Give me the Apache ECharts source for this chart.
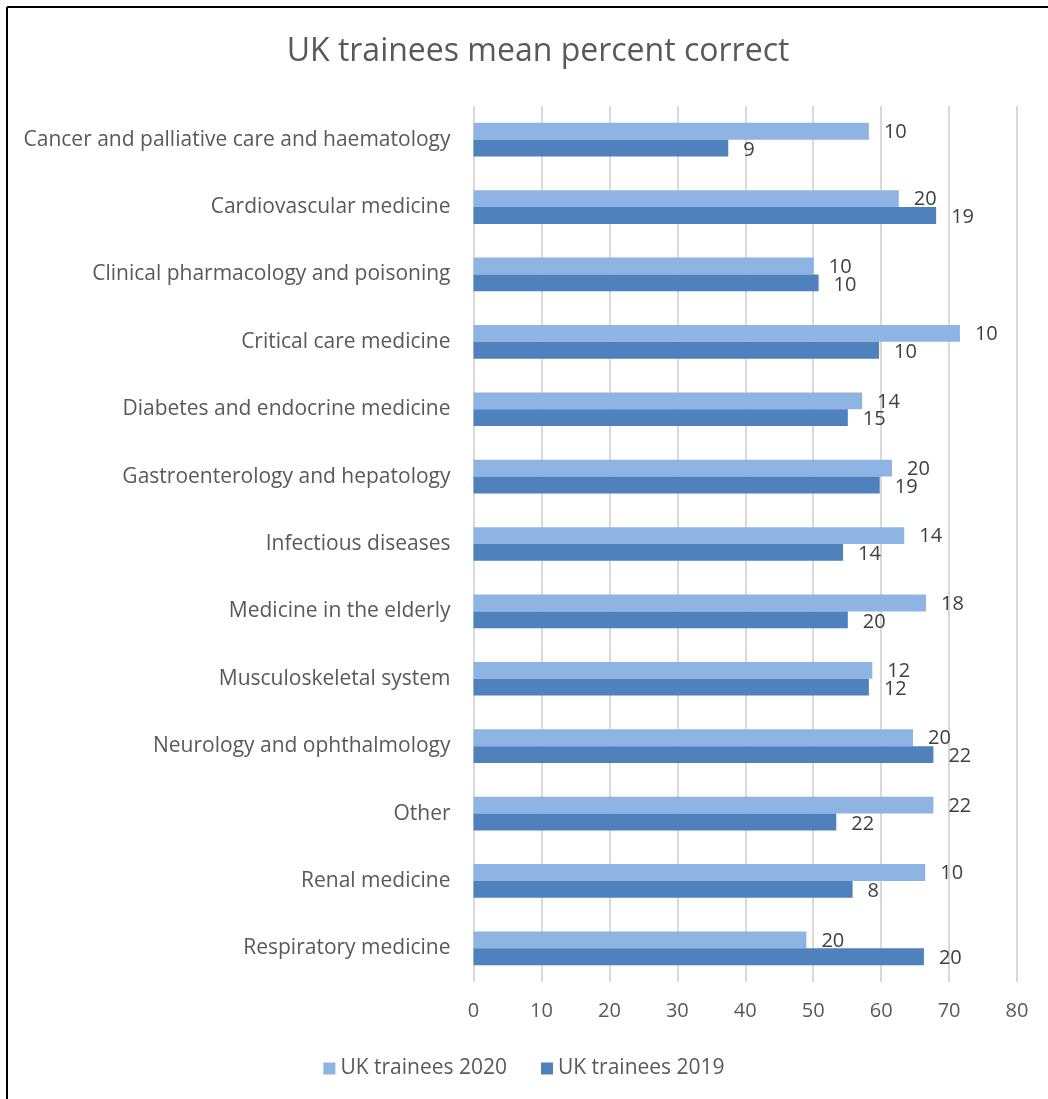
<!DOCTYPE html>
<html>
<head>
<meta charset="utf-8">
<script src="https://cdn.jsdelivr.net/npm/echarts@6/dist/echarts.min.js"></script>
<style>
html,body{margin:0;padding:0;background:#fff;}
#chart{width:1048px;height:1099px;}
</style>
</head>
<body>
<div id="chart"></div>
<script>
const categories = [
  "Cancer and palliative care and haematology",
  "Cardiovascular medicine",
  "Clinical pharmacology and poisoning",
  "Critical care medicine",
  "Diabetes and endocrine medicine",
  "Gastroenterology and hepatology",
  "Infectious diseases",
  "Medicine in the elderly",
  "Musculoskeletal system",
  "Neurology and ophthalmology",
  "Other",
  "Renal medicine",
  "Respiratory medicine"
];
const values2020 = [58.2, 62.6, 50.1, 71.6, 57.2, 61.6, 63.4, 66.6, 58.7, 64.7, 67.7, 66.5, 49.0];
const values2019 = [37.5, 68.1, 50.8, 59.7, 55.1, 59.8, 54.4, 55.1, 58.2, 67.7, 53.4, 55.8, 66.3];
const labels2020 = [10, 20, 10, 10, 14, 20, 14, 18, 12, 20, 22, 10, 20];
const labels2019 = [9, 19, 10, 10, 15, 19, 14, 20, 12, 22, 22, 8, 20];
const xTicks = [0, 10, 20, 30, 40, 50, 60, 70, 80];

const chart = echarts.init(document.getElementById('chart'), null, {renderer: 'canvas'});
const fontFam = 'Open Sans, Liberation Sans, sans-serif';
const option = {
  animation: false,
  backgroundColor: '#ffffff',
  title: {
    text: 'UK trainees mean percent correct',
    left: 533, top: 31, textAlign: 'center',
    textStyle: {color: '#595959', fontSize: 32, fontWeight: 'normal', fontFamily: fontFam}
  },
  legend: {
    bottom: 15, left: 'center',
    itemWidth: 12, itemHeight: 12, itemGap: 34,
    icon: 'rect',
    textStyle: {color: '#595959', fontSize: 21, fontFamily: fontFam},
    data: ['UK trainees 2020', 'UK trainees 2019']
  },
  grid: {left: 473.5, right: 31, top: 106, bottom: 117, containLabel: false},
  xAxis: {
    type: 'value', min: xTicks[0], max: xTicks[xTicks.length - 1], interval: 10,
    axisLine: {show: false}, axisTick: {show: false},
    axisLabel: {color: '#595959', fontSize: 20, fontFamily: fontFam, margin: 19},
    splitLine: {show: true, lineStyle: {color: '#d9d9d9', width: 2}}
  },
  yAxis: {
    type: 'category', data: categories, inverse: true,
    axisLine: {show: false}, axisTick: {show: false},
    axisLabel: {color: '#595959', fontSize: 21, fontFamily: fontFam, margin: 23, padding: [4, 0, 0, 0]}
  },
  series: [
    {
      name: 'UK trainees 2020', type: 'bar', data: values2020,
      barGap: '0%', barCategoryGap: '50%',
      itemStyle: {color: '#8eb4e3'},
      label: {show: true, position: 'right', distance: 15, offset: [0, 1], color: '#404040', fontSize: 20, fontFamily: fontFam,
        formatter: p => labels2020[p.dataIndex]}
    },
    {
      name: 'UK trainees 2019', type: 'bar', data: values2019,
      barGap: '0%', barCategoryGap: '50%',
      itemStyle: {color: '#4f81bd'},
      label: {show: true, position: 'right', distance: 15, offset: [0, 2], color: '#404040', fontSize: 20, fontFamily: fontFam,
        formatter: p => labels2019[p.dataIndex]}
    }
  ],
  graphic: [
    {type: 'line', shape: {x1: 7, y1: 7, x2: 1048, y2: 7}, style: {stroke: '#000', lineWidth: 2}},
    {type: 'line', shape: {x1: 7, y1: 7, x2: 7, y2: 1099}, style: {stroke: '#000', lineWidth: 2}}
  ]
};
chart.setOption(option);
</script>
</body>
</html>
